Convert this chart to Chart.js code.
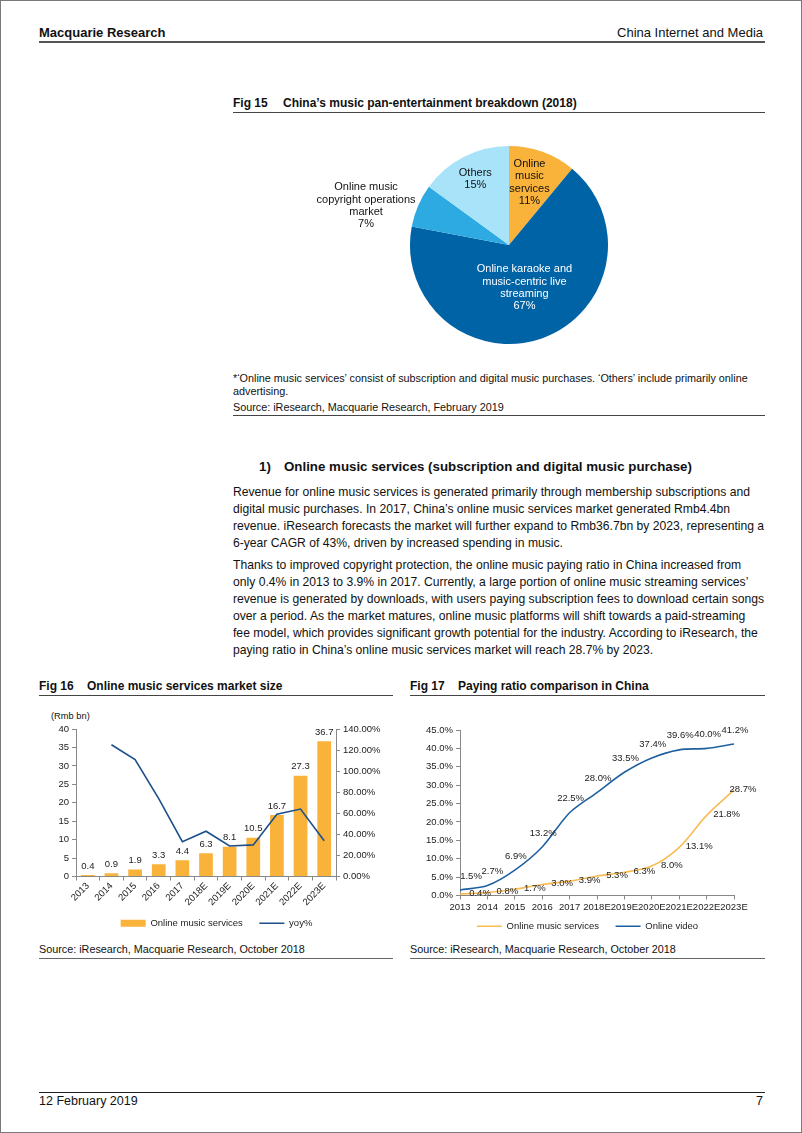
<!DOCTYPE html>
<html>
<head>
<meta charset="utf-8">
<script src="https://cdn.jsdelivr.net/npm/chart.js@4/dist/chart.umd.min.js"></script>
<style>
  body { margin: 0; background: #fff; font-family: Arial, "Liberation Sans", sans-serif; color: #111; }
  #page { position: relative; width: 802px; height: 1133px; border: 1px solid #7a7a7a; box-sizing: border-box; overflow: hidden; }
  .t { position: absolute; white-space: nowrap; }
  .rule { position: absolute; height: 0; }
  canvas { position: absolute; }
  .body p { margin: 0; height: 17px; line-height: 17px; white-space: nowrap; }
</style>
</head>
<body>
<div id="page">
  <div class="t" style="left:38px;top:24px;font-size:13px;font-weight:bold;">Macquarie Research</div>
  <div class="t" style="right:38px;top:24px;font-size:13px;">China Internet and Media</div>
  <div class="rule" style="left:38px;top:40px;width:726px;border-top:2px solid #555;"></div>

  <div class="t" style="left:232px;top:95px;font-size:12px;font-weight:bold;">Fig 15</div>
  <div class="t" style="left:282px;top:95px;font-size:12px;font-weight:bold;">China’s music pan-entertainment breakdown (2018)</div>
  <div class="rule" style="left:232px;top:111px;width:532px;border-top:1.5px solid #444;"></div>

  <canvas id="pie" width="420" height="220" style="left:298px;top:134px;"></canvas>

  <div class="t" style="left:232px;top:371px;font-size:10.8px;">*‘Online music services’ consist of subscription and digital music purchases. ‘Others’ include primarily online</div>
  <div class="t" style="left:232px;top:384px;font-size:10.8px;">advertising.</div>
  <div class="t" style="left:232px;top:400px;font-size:10.8px;">Source: iResearch, Macquarie Research, February 2019</div>
  <div class="rule" style="left:232px;top:414px;width:532px;border-top:1px solid #444;"></div>

  <div class="t" style="left:258px;top:458px;font-size:13.3px;font-weight:bold;">1)</div>
  <div class="t" style="left:283px;top:458px;font-size:13.3px;font-weight:bold;">Online music services (subscription and digital music purchase)</div>

  <div class="t body" style="left:232px;top:483px;font-size:12.15px;">
    <p>Revenue for online music services is generated primarily through membership subscriptions and</p>
    <p>digital music purchases. In 2017, China’s online music services market generated Rmb4.4bn</p>
    <p>revenue. iResearch forecasts the market will further expand to Rmb36.7bn by 2023, representing a</p>
    <p>6-year CAGR of 43%, driven by increased spending in music.</p>
  </div>
  <div class="t body" style="left:232px;top:556px;font-size:12.15px;">
    <p>Thanks to improved copyright protection, the online music paying ratio in China increased from</p>
    <p>only 0.4% in 2013 to 3.9% in 2017. Currently, a large portion of online music streaming services’</p>
    <p>revenue is generated by downloads, with users paying subscription fees to download certain songs</p>
    <p>over a period. As the market matures, online music platforms will shift towards a paid-streaming</p>
    <p>fee model, which provides significant growth potential for the industry. According to iResearch, the</p>
    <p>paying ratio in China’s online music services market will reach 28.7% by 2023.</p>
  </div>

  <div class="t" style="left:38px;top:678px;font-size:12px;font-weight:bold;">Fig 16</div>
  <div class="t" style="left:86px;top:678px;font-size:12px;font-weight:bold;">Online music services market size</div>
  <div class="rule" style="left:38px;top:694px;width:354px;border-top:1.5px solid #444;"></div>
  <div class="t" style="left:50px;top:710px;font-size:9.3px;">(Rmb bn)</div>
  <canvas id="size" width="355" height="219" style="left:38px;top:718px;"></canvas>
  <div class="t" style="left:38px;top:942px;font-size:10.8px;">Source: iResearch, Macquarie Research, October 2018</div>
  <div class="rule" style="left:38px;top:957px;width:354px;border-top:1px solid #666;"></div>

  <div class="t" style="left:409px;top:678px;font-size:12px;font-weight:bold;">Fig 17</div>
  <div class="t" style="left:457px;top:678px;font-size:12px;font-weight:bold;">Paying ratio comparison in China</div>
  <div class="rule" style="left:409px;top:694px;width:355px;border-top:1.5px solid #444;"></div>
  <canvas id="ratio" width="355" height="222" style="left:409px;top:718px;"></canvas>
  <div class="t" style="left:409px;top:942px;font-size:10.8px;">Source: iResearch, Macquarie Research, October 2018</div>
  <div class="rule" style="left:409px;top:957px;width:355px;border-top:1px solid #666;"></div>

  <div class="rule" style="left:38px;top:1091px;width:726px;border-top:1px solid #222;"></div>
  <div class="t" style="left:38px;top:1093px;font-size:12.5px;">12 February 2019</div>
  <div class="t" style="right:38px;top:1093px;font-size:12.5px;">7</div>
</div>

<script>
// Fig 15 - pie
var pieLabels = ["Online music services", "Online karaoke and music-centric live streaming", "Online music copyright operations market", "Others"];
var pieShares = [11, 67, 7, 15];
var pieColors = ["#F9B23A", "#0063A6", "#2CAAE1", "#A8E3FA"];
var pieLabelLines = [["Online", "music", "services"], ["Online karaoke and", "music-centric live", "streaming"], ["Online music", "copyright operations", "market"], ["Others"]];

// Fig 16 / 17 - shared years
var years = ["2013", "2014", "2015", "2016", "2017", "2018E", "2019E", "2020E", "2021E", "2022E", "2023E"];
var marketSize = [0.4, 0.9, 1.9, 3.3, 4.4, 6.3, 8.1, 10.5, 16.7, 27.3, 36.7];   // Rmb bn
var yoyGrowth = [null, 125, 111, 74, 33, 43, 29, 30, 59, 64, 34];               // %
var musicPayRatio = [0.4, 0.8, 1.7, 3.0, 3.9, 5.3, 6.3, 8.0, 13.1, 21.8, 28.7];
var videoPayRatio = [1.5, 2.7, 6.9, 13.2, 22.5, 28.0, 33.5, 37.4, 39.6, 40.0, 41.2];

var FONT = 'Arial, "Liberation Sans", sans-serif';
var CHART_FS = 9.5;
Chart.defaults.font.family = FONT;
Chart.defaults.font.size = CHART_FS;
Chart.defaults.color = "#222";
Chart.defaults.animation = false;

// label placement for the pie slices (radius fraction + nudge)
var piePos = [
  {k: 0.67, dx: -2, dy: 0, color: "#111"},
  {k: 0.46, dx: 0, dy: 0, color: "#fff"},
  {k: 1.10, dx: -43, dy: 4, color: "#111"},
  {k: 0.75, dx: 0, dy: 0, color: "#111"}
];

var pieText = {
  id: "pieText",
  afterDatasetsDraw: function(chart) {
    var ctx = chart.ctx;
    var meta = chart.getDatasetMeta(0);
    ctx.save();
    ctx.font = "11px " + FONT;
    ctx.textAlign = "center";
    ctx.textBaseline = "middle";
    meta.data.forEach(function(arc, i) {
      var p = piePos[i];
      var mid = (arc.startAngle + arc.endAngle) / 2;
      var r = arc.outerRadius * p.k;
      var x = arc.x + Math.cos(mid) * r + p.dx;
      var y = arc.y + Math.sin(mid) * r + p.dy;
      var lines = pieLabelLines[i].concat([pieShares[i] + "%"]);
      var lh = 12.3;
      var y0 = y - (lines.length - 1) * lh / 2;
      ctx.fillStyle = p.color;
      lines.forEach(function(s, j) { ctx.fillText(s, x, y0 + j * lh); });
    });
    ctx.restore();
  }
};

new Chart("pie", {
  type: "pie",
  data: {
    labels: pieLabels,
    datasets: [{ data: pieShares, backgroundColor: pieColors, borderWidth: 0 }]
  },
  options: {
    responsive: false,
    layout: { padding: { top: 11, bottom: 11 } },
    plugins: { legend: { display: false }, tooltip: { enabled: false } }
  },
  plugins: [pieText]
});

// legend with wide boxes / lines; a few trailing spaces widen the gap after the first item
function legendItems(chart) {
  var items = Chart.defaults.plugins.legend.labels.generateLabels(chart);
  items.forEach(function(it) {
    var ds = chart.data.datasets[it.datasetIndex];
    if (ds.type === "bar") { it.pointStyle = "rect"; it.lineWidth = 0; }
    else { it.pointStyle = "line"; it.lineWidth = 1.5; it.strokeStyle = ds.borderColor; }
  });
  items.sort(function(a, b) { return a.datasetIndex - b.datasetIndex; });
  items[0].text = items[0].text + "    ";
  return items;
}

var barValues = {
  id: "barValues",
  afterDatasetsDraw: function(chart) {
    var ctx = chart.ctx;
    var meta = chart.getDatasetMeta(0);
    ctx.save();
    ctx.font = CHART_FS + "px " + FONT;
    ctx.fillStyle = "#222";
    ctx.textAlign = "center";
    ctx.textBaseline = "middle";
    meta.data.forEach(function(bar, i) {
      ctx.fillText(marketSize[i].toFixed(1), bar.x, bar.y - 9);
    });
    ctx.restore();
  }
};

new Chart("size", {
  data: {
    labels: years,
    datasets: [
      { type: "bar", label: "Online music services", data: marketSize, backgroundColor: "#F9B23A",
        yAxisID: "y", barPercentage: 0.58, categoryPercentage: 1, order: 1 },
      { type: "line", label: "yoy%", data: yoyGrowth, borderColor: "#1D4F8A", borderWidth: 1.6,
        pointRadius: 0, tension: 0, yAxisID: "y1", order: 0 }
    ]
  },
  options: {
    responsive: false,
    layout: { padding: { top: 10, right: 0 } },
    plugins: {
      tooltip: { enabled: false },
      legend: {
        position: "bottom",
        labels: { usePointStyle: true, pointStyleWidth: 25, boxHeight: 7, padding: 6,
          color: "#222", generateLabels: legendItems }
      }
    },
    scales: {
      x: {
        offset: true,
        grid: { display: true, offset: true, drawOnChartArea: false, tickLength: 4, color: "#888" },
        border: { color: "#888" },
        ticks: { minRotation: 45, maxRotation: 45, autoSkip: false, padding: 0 },
        afterFit: function(s) { s.height = 36; }
      },
      y: {
        position: "left", min: 0, max: 40,
        ticks: { stepSize: 5, padding: 3 },
        grid: { drawOnChartArea: false, tickLength: 4, color: "#888" },
        border: { color: "#888" },
        afterFit: function(s) { s.width = 37; }
      },
      y1: {
        position: "right", min: 0, max: 140,
        ticks: { stepSize: 20, padding: 3,
          callback: function(v) { return v.toFixed(2) + "%"; } },
        grid: { drawOnChartArea: false, tickLength: 4, color: "#888" },
        border: { color: "#888" },
        afterFit: function(s) { s.width = 58; }
      }
    }
  },
  plugins: [barValues]
});

var videoNudge = [11, 5];

var lineValues = {
  id: "lineValues",
  afterDatasetsDraw: function(chart) {
    var ctx = chart.ctx;
    ctx.save();
    ctx.font = CHART_FS + "px " + FONT;
    ctx.fillStyle = "#222";
    ctx.textAlign = "center";
    ctx.textBaseline = "middle";
    chart.getDatasetMeta(0).data.forEach(function(pt, i) {
      var x = Math.min(pt.x + 20, chart.width - 22);
      ctx.fillText(musicPayRatio[i].toFixed(1) + "%", x, pt.y - 1);
    });
    chart.getDatasetMeta(1).data.forEach(function(pt, i) {
      var dx = i < videoNudge.length ? videoNudge[i] : 1;
      ctx.fillText(videoPayRatio[i].toFixed(1) + "%", pt.x + dx, pt.y - 14);
    });
    ctx.restore();
  }
};

new Chart("ratio", {
  type: "line",
  data: {
    labels: years,
    datasets: [
      { label: "Online music services", data: musicPayRatio, borderColor: "#F8BC55", borderWidth: 1.6,
        pointRadius: 0, tension: 0.3 },
      { label: "Online video", data: videoPayRatio, borderColor: "#1F61A0", borderWidth: 1.6,
        pointRadius: 0, tension: 0.3 }
    ]
  },
  options: {
    responsive: false,
    layout: { padding: { top: 11 } },
    plugins: {
      tooltip: { enabled: false },
      legend: {
        position: "bottom",
        labels: { usePointStyle: true, pointStyleWidth: 25, boxHeight: 7, padding: 6,
          color: "#222", generateLabels: legendItems }
      }
    },
    scales: {
      x: {
        offset: false,
        grid: { drawOnChartArea: false, tickLength: 4, color: "#888" },
        border: { color: "#888" },
        ticks: { autoSkip: false, maxRotation: 0, minRotation: 0, padding: 2 },
        afterFit: function(s) { s.height = 20; }
      },
      y: {
        min: 0, max: 45,
        ticks: { stepSize: 5, padding: 3,
          callback: function(v) { return v.toFixed(1) + "%"; } },
        grid: { drawOnChartArea: false, tickLength: 4, color: "#888" },
        border: { color: "#888" },
        afterFit: function(s) { s.width = 50; }
      },
      // blank right-hand gutter so the legend stays centred on the whole panel
      gutter: {
        type: "linear", position: "right", min: 0, max: 45,
        ticks: { display: false }, grid: { display: false }, border: { display: false },
        afterFit: function(s) { s.width = 31; }
      }
    }
  },
  plugins: [lineValues]
});
</script>
</body>
</html>
